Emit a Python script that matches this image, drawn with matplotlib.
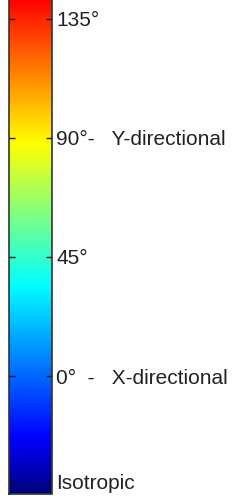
import numpy as np
import matplotlib
matplotlib.use("Agg")
import matplotlib.pyplot as plt
from matplotlib.colors import LinearSegmentedColormap, Normalize
from matplotlib.cm import ScalarMappable

plt.rcParams['font.family'] = ['Liberation Sans', 'DejaVu Sans']

# colour bar range (degrees) and colour anchors
vmin, vmax = -44.6, 142.9
anchor_deg = [-44.6, -23.4, 34.4, 88.0, 142.2]
anchor_rgb = [(0.0, 0.0, 0.5), (0.0, 0.0, 1.0), (0.0, 1.0, 1.0),
              (1.0, 1.0, 0.0), (1.0, 0.0, 0.0)]

tick_vals = [135, 90, 45, 0, -40]
tick_labels = ["135°",
               "90°-   Y-directional",
               "45°",
               "0°  -   X-directional",
               "Isotropic"]

pos = [(d - vmin) / (vmax - vmin) for d in anchor_deg]
pos[-1] = 1.0
cmap = LinearSegmentedColormap.from_list("orient", list(zip(pos, anchor_rgb)), N=256)

fig = plt.figure(figsize=(2.49, 4.96), dpi=100)
cax = fig.add_axes([9 / 249, 2 / 496, 43 / 249, 496 / 496])
sm = ScalarMappable(norm=Normalize(vmin, vmax), cmap=cmap)
cb = fig.colorbar(sm, cax=cax, orientation="vertical")
cb.outline.set_edgecolor("#333333")
cb.outline.set_linewidth(1.2)
cb.set_ticks(tick_vals)
cb.set_ticklabels(tick_labels)
cax.tick_params(axis="y", direction="in", left=True, right=True, length=4,
                width=1, color="#111111", labelsize=15, pad=3, labelcolor="#222222")

fig.savefig("out.png", dpi=100)
